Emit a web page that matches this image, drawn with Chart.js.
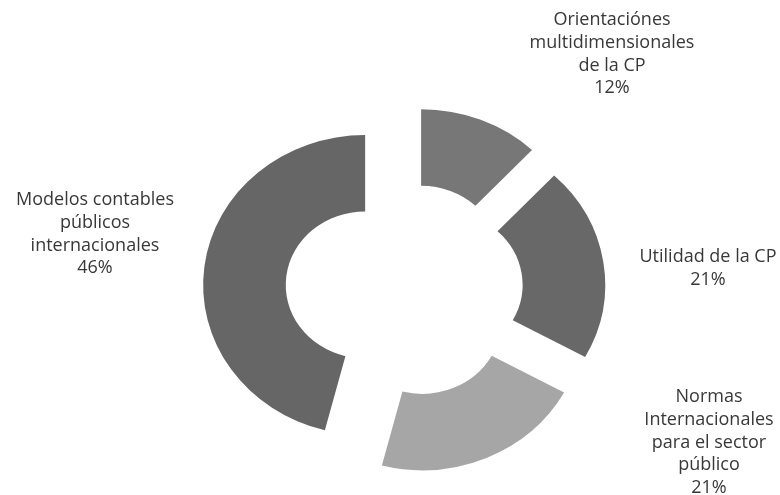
<!DOCTYPE html>
<html>
<head>
<meta charset="utf-8">
<script src="https://cdn.jsdelivr.net/npm/chart.js@4/dist/chart.umd.min.js"></script>
<style>
  html, body { margin: 0; padding: 0; background: #fff; }
</style>
</head>
<body>
<canvas id="torta" width="780" height="495"></canvas>
<script>
const categorias = [
    ['Orientaciónes', 'multidimensionales', 'de la CP'],
    ['Utilidad de la CP'],
    ['Normas', 'Internacionales', 'para el sector', 'público'],
    ['Modelos contables', 'públicos', 'internacionales']
];
const porcentajes = [12, 21, 21, 46];
const colores = ['#777777', '#686868', '#a6a6a6', '#666666'];

// separación de cada porción hacia afuera y estiramiento horizontal del anillo
const separacion = [33, 33, 33, 40];
const estirarX = 1.08;
// centro de cada bloque de texto: [x, y de la primera línea]
const posEtiquetas = [[612, 20], [708, 257], [709, 397], [95, 200]];
const altoLinea = 22.7;

const porcionesSeparadas = {
    id: 'porcionesSeparadas',
    beforeDatasetDraw(chart, args) {
        const ctx = chart.ctx;
        args.meta.data.forEach((arco, i) => {
            const medio = (arco.startAngle + arco.endAngle) / 2;
            ctx.save();
            ctx.translate(arco.x, arco.y);
            ctx.scale(estirarX, 1);
            ctx.translate(Math.cos(medio) * separacion[i] - arco.x, Math.sin(medio) * separacion[i] - arco.y);
            arco.draw(ctx);
            ctx.restore();
        });
        return false;
    }
};

const etiquetas = {
    id: 'etiquetas',
    afterDraw(chart) {
        const ctx = chart.ctx;
        ctx.save();
        ctx.font = '18px "Open Sans"';
        ctx.fillStyle = '#383838';
        ctx.textAlign = 'center';
        ctx.textBaseline = 'middle';
        categorias.forEach((lineas, i) => {
            const [x, y] = posEtiquetas[i];
            lineas.concat(porcentajes[i] + '%').forEach((t, j) => {
                ctx.fillText(t, x, y + j * altoLinea);
            });
        });
        ctx.restore();
    }
};

new Chart(document.getElementById('torta'), {
    type: 'doughnut',
    data: {
        labels: categorias.map(l => l.join(' ')),
        datasets: [{
            data: porcentajes,
            backgroundColor: colores,
            borderWidth: 0
        }]
    },
    options: {
        responsive: false,
        animation: false,
        radius: 150,
        cutout: '49%',
        layout: { padding: { left: 36, top: 85, right: 0, bottom: 0 } },
        plugins: {
            legend: { display: false },
            tooltip: { enabled: false }
        }
    },
    plugins: [porcionesSeparadas, etiquetas]
});
</script>
</body>
</html>
